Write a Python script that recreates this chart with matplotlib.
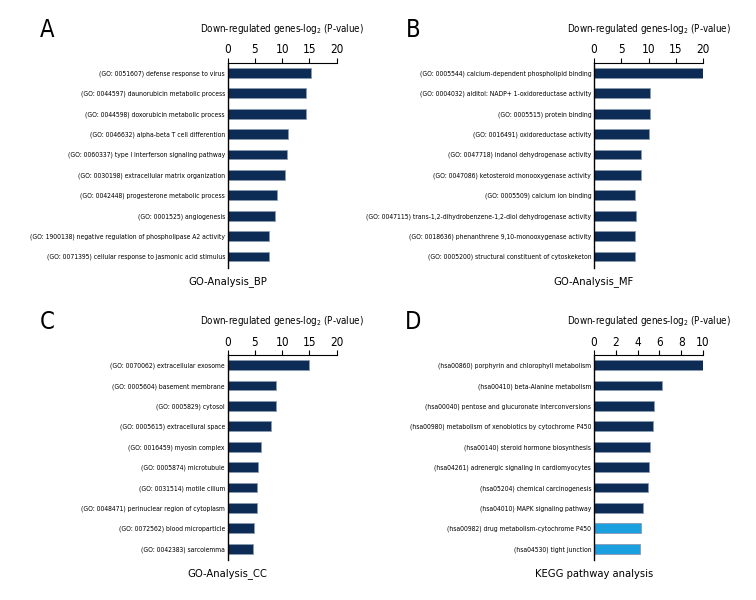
import matplotlib
matplotlib.use("Agg")
import matplotlib.pyplot as plt
import numpy as np

plt.rcParams['font.family'] = ['DejaVu Sans']
plt.rcParams['font.stretch'] = 'condensed'

# panel data (top to bottom)
bp_terms = ["(GO: 0051607) defense response to virus",
            "(GO: 0044597) daunorubicin metabolic process",
            "(GO: 0044598) doxorubicin metabolic process",
            "(GO: 0046632) alpha-beta T cell differention",
            "(GO: 0060337) type I interferson signaling pathway",
            "(GO: 0030198) extracellular matrix organization",
            "(GO: 0042448) progesterone metabolic process",
            "(GO: 0001525) angiogenesis",
            "(GO: 1900138) negative regulation of phospholipase A2 activity",
            "(GO: 0071395) cellular response to jasmonic acid stimulus"]
bp_vals = [15.2, 14.4, 14.4, 11.1, 10.8, 10.6, 9.1, 8.7, 7.6, 7.6]

mf_terms = ["(GO: 0005544) calcium-dependent phospholipid binding",
            "(GO: 0004032) alditol: NADP+ 1-oxidoreductase activity",
            "(GO: 0005515) protein binding",
            "(GO: 0016491) oxidoreductase activity",
            "(GO: 0047718) indanol dehydrogenase activity",
            "(GO: 0047086) ketosteroid monooxygenase activity",
            "(GO: 0005509) calcium ion binding",
            "(GO: 0047115) trans-1,2-dihydrobenzene-1,2-diol dehydrogenase activity",
            "(GO: 0018636) phenanthrene 9,10-monooxygenase activity",
            "(GO: 0005200) structural constituent of cytoskeketon"]
mf_vals = [20.0, 10.3, 10.2, 10.0, 8.6, 8.6, 7.6, 7.7, 7.6, 7.6]

cc_terms = ["(GO: 0070062) extracellular exosome",
            "(GO: 0005604) basement membrane",
            "(GO: 0005829) cytosol",
            "(GO: 0005615) extracellural space",
            "(GO: 0016459) myosin complex",
            "(GO: 0005874) microtubule",
            "(GO: 0031514) motile cilium",
            "(GO: 0048471) perinuclear region of cytoplasm",
            "(GO: 0072562) blood microparticle",
            "(GO: 0042383) sarcolemma"]
cc_vals = [14.9, 8.9, 8.9, 7.95, 6.1, 5.6, 5.4, 5.4, 4.9, 4.7]

kegg_terms = ["(hsa00860) porphyrin and chlorophyll metabolism",
              "(hsa00410) beta-Alanine metabolism",
              "(hsa00040) pentose and glucuronate interconversions",
              "(hsa00980) metabolism of xenobiotics by cytochrome P450",
              "(hsa00140) steroid hormone biosynthesis",
              "(hsa04261) adrenergic signaling in cardiomyocytes",
              "(hsa05204) chemical carcinogenesis",
              "(hsa04010) MAPK signaling pathway",
              "(hsa00982) drug metabolism-cytochrome P450",
              "(hsa04530) tight junction"]
kegg_vals = [10.0, 6.25, 5.5, 5.4, 5.1, 5.0, 4.95, 4.5, 4.3, 4.2]

dark = "#0c2c56"
light = "#1a9fdf"

W, H = 756, 600
fig = plt.figure(figsize=(W / 100, H / 100), dpi=100)

def panel(letter, terms, vals, colors, x0, ytop, xmax, step, subtitle):
    # pixel geometry -> figure fraction
    w = 109
    h = 205
    ax = fig.add_axes([x0 / W, 1 - (ytop + h) / H, w / W, h / H])
    y = np.arange(len(vals))
    ax.barh(y, vals, height=0.48, color=colors, edgecolor="#8a9bb0", linewidth=0.6)
    ax.set_ylim(len(vals) - 0.45, -0.5)
    ax.set_xlim(0, xmax)
    ax.set_xticks(np.arange(0, xmax + 0.01, step))
    ax.xaxis.tick_top()
    ax.tick_params(axis="x", direction="out", length=3.5, width=0.8, pad=1, labelsize=8.5)
    ax.set_yticks(y)
    ax.set_yticklabels(terms, fontsize=4.9)
    ax.tick_params(axis="y", length=0, pad=2)
    ax.spines["bottom"].set_visible(False)
    ax.spines["right"].set_visible(False)
    ax.spines["top"].set_linewidth(0.8)
    ax.spines["left"].set_linewidth(1.0)
    cx = (x0 + w / 2) / W
    fig.text(cx, 1 - (ytop - 34) / H, "Down-regulated genes-log$_2$ (P-value)",
             ha="center", va="center", fontsize=7)
    fig.text(x0 / W, 1 - (ytop + 219) / H, subtitle, ha="center", va="center", fontsize=8)
    fig.text((x0 - 181) / W, 1 - (ytop - 33) / H, letter, ha="center", va="center", fontsize=17)
    return ax

panel("A", bp_terms, bp_vals, [dark] * 10, 227.7, 62.7, 20, 5, "GO-Analysis_BP")
panel("B", mf_terms, mf_vals, [dark] * 10, 594, 62.7, 20, 5, "GO-Analysis_MF")
panel("C", cc_terms, cc_vals, [dark] * 10, 227.7, 355, 20, 5, "GO-Analysis_CC")
panel("D", kegg_terms, kegg_vals, [dark] * 8 + [light] * 2, 594, 355, 10, 2, "KEGG pathway analysis")

fig.savefig("out.png", dpi=100)
